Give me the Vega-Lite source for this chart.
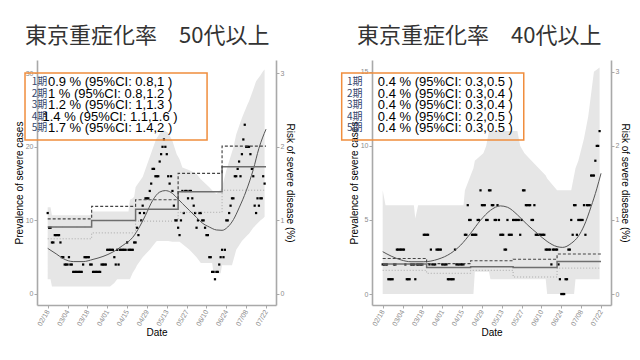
{
"$schema": "https://vega.github.io/schema/vega-lite/v6.json",
"padding": {"left": 14, "top": 25, "right": 5, "bottom": 3},
"spacing": 45,
"background": "white",
"config": {
 "view": {"stroke": null},
 "axis": {"grid": false, "domainColor": "#a9a9a9", "domainWidth": 1.6, "tickColor": "#a9a9a9", "tickSize": 3, "labelColor": "#8c8c8c", "labelFontSize": 7, "labelFont": "Liberation Sans", "titleFont": "Liberation Sans", "titleFontSize": 10, "titleFontWeight": "normal", "titleColor": "#000000", "labelPadding": 1},
 "axisX": {"labelOverlap": false, "labelSeparation": 0, "labelBound": false, "labelFlush": false, "labelAngle": -60, "labelAlign": "right", "labelBaseline": "middle", "labelPadding": 2, "titlePadding": 1, "format": "%m/%d", "tickCount": 30}
},
"datasets": {
 "pts": [
{"d":"2021-02-18","a":11,"b":2},{"d":"2021-02-19","a":9,"b":2},{"d":"2021-02-20","a":9,"b":2},{"d":"2021-02-21","a":7,"b":2},{"d":"2021-02-22","a":7,"b":1},{"d":"2021-02-23","a":8,"b":1},{"d":"2021-02-24","a":8,"b":1},{"d":"2021-02-25","a":8,"b":1},{"d":"2021-02-26","a":8,"b":2},{"d":"2021-02-27","a":7,"b":2},{"d":"2021-02-28","a":5,"b":3},
{"d":"2021-03-01","a":5,"b":3},{"d":"2021-03-02","a":4,"b":3},{"d":"2021-03-03","a":4,"b":3},{"d":"2021-03-04","a":4,"b":3},{"d":"2021-03-05","a":5,"b":3},{"d":"2021-03-06","a":4,"b":2},{"d":"2021-03-07","a":4,"b":1},{"d":"2021-03-08","a":3,"b":1},{"d":"2021-03-09","a":3,"b":1},{"d":"2021-03-10","a":3,"b":2},{"d":"2021-03-11","a":3,"b":2},{"d":"2021-03-12","a":3,"b":2},{"d":"2021-03-13","a":3,"b":1},{"d":"2021-03-14","a":3,"b":2},{"d":"2021-03-15","a":4,"b":2},{"d":"2021-03-16","a":5,"b":2},{"d":"2021-03-17","a":5,"b":2},{"d":"2021-03-18","a":5,"b":2},{"d":"2021-03-19","a":5,"b":4},{"d":"2021-03-20","a":4,"b":4},{"d":"2021-03-21","a":4,"b":4},{"d":"2021-03-22","a":3,"b":4},{"d":"2021-03-23","a":3,"b":2},{"d":"2021-03-24","a":3,"b":3},{"d":"2021-03-25","a":3,"b":2},{"d":"2021-03-26","a":3,"b":2},{"d":"2021-03-27","a":3,"b":2},{"d":"2021-03-28","a":4,"b":3},{"d":"2021-03-29","a":4,"b":3},{"d":"2021-03-30","a":4,"b":3},{"d":"2021-03-31","a":4,"b":3},
{"d":"2021-04-01","a":6,"b":2},{"d":"2021-04-02","a":6,"b":2},{"d":"2021-04-03","a":6,"b":2},{"d":"2021-04-04","a":6,"b":2},{"d":"2021-04-05","a":6,"b":1},{"d":"2021-04-06","a":5,"b":1},{"d":"2021-04-07","a":4,"b":1},{"d":"2021-04-08","a":6,"b":1},{"d":"2021-04-09","a":4,"b":1},{"d":"2021-04-10","a":6,"b":3},{"d":"2021-04-11","a":6,"b":2},{"d":"2021-04-12","a":6,"b":2},{"d":"2021-04-13","a":6,"b":2},{"d":"2021-04-14","a":6,"b":2},{"d":"2021-04-15","a":7,"b":2},{"d":"2021-04-16","a":6,"b":2},{"d":"2021-04-17","a":6,"b":4},{"d":"2021-04-18","a":6,"b":4},{"d":"2021-04-19","a":6,"b":6},{"d":"2021-04-20","a":7,"b":5},{"d":"2021-04-21","a":7,"b":5},{"d":"2021-04-22","a":9,"b":4},{"d":"2021-04-23","a":8,"b":4},{"d":"2021-04-24","a":11,"b":4},{"d":"2021-04-25","a":10,"b":4},{"d":"2021-04-26","a":12,"b":5},{"d":"2021-04-27","a":11,"b":5},{"d":"2021-04-28","a":13,"b":7},{"d":"2021-04-29","a":13,"b":6},{"d":"2021-04-30","a":13,"b":6},
{"d":"2021-05-01","a":14,"b":6},{"d":"2021-05-02","a":15,"b":5},{"d":"2021-05-03","a":17,"b":5},{"d":"2021-05-04","a":17,"b":7},{"d":"2021-05-05","a":16,"b":7},{"d":"2021-05-06","a":16,"b":6},{"d":"2021-05-07","a":16,"b":6},{"d":"2021-05-08","a":18,"b":5},{"d":"2021-05-09","a":19,"b":5},{"d":"2021-05-10","a":20,"b":6},{"d":"2021-05-11","a":21,"b":5},{"d":"2021-05-12","a":20,"b":4},{"d":"2021-05-13","a":19,"b":4},{"d":"2021-05-14","a":16,"b":4},{"d":"2021-05-15","a":15,"b":3},{"d":"2021-05-16","a":16,"b":3},{"d":"2021-05-17","a":14,"b":5},{"d":"2021-05-18","a":12,"b":4},{"d":"2021-05-19","a":10,"b":4},{"d":"2021-05-20","a":10,"b":4},{"d":"2021-05-21","a":9,"b":5},{"d":"2021-05-22","a":8,"b":5},{"d":"2021-05-23","a":10,"b":5},{"d":"2021-05-24","a":14,"b":5},{"d":"2021-05-25","a":11,"b":5},{"d":"2021-05-26","a":14,"b":4},{"d":"2021-05-27","a":14,"b":5},{"d":"2021-05-28","a":13,"b":7},{"d":"2021-05-29","a":14,"b":7},{"d":"2021-05-30","a":14,"b":6},{"d":"2021-05-31","a":13,"b":6},
{"d":"2021-06-01","a":12,"b":6},{"d":"2021-06-02","a":11,"b":6},{"d":"2021-06-03","a":9,"b":5},{"d":"2021-06-04","a":10,"b":5},{"d":"2021-06-05","a":11,"b":6},{"d":"2021-06-06","a":11,"b":4},{"d":"2021-06-07","a":10,"b":4},{"d":"2021-06-08","a":10,"b":4},{"d":"2021-06-09","a":9,"b":4},{"d":"2021-06-10","a":8,"b":4},{"d":"2021-06-11","a":8,"b":4},{"d":"2021-06-12","a":5,"b":4},{"d":"2021-06-13","a":5,"b":3},{"d":"2021-06-14","a":3,"b":3},{"d":"2021-06-15","a":3,"b":3},{"d":"2021-06-16","a":2,"b":3},{"d":"2021-06-17","a":3,"b":2},{"d":"2021-06-18","a":3,"b":3},{"d":"2021-06-19","a":4,"b":3},{"d":"2021-06-20","a":5,"b":3},{"d":"2021-06-21","a":6,"b":3},{"d":"2021-06-22","a":5,"b":2},{"d":"2021-06-23","a":6,"b":1},{"d":"2021-06-24","a":10,"b":0},{"d":"2021-06-25","a":10,"b":0},{"d":"2021-06-26","a":11,"b":0},{"d":"2021-06-27","a":12,"b":1},{"d":"2021-06-28","a":13,"b":1},{"d":"2021-06-29","a":13,"b":3},{"d":"2021-06-30","a":16,"b":3},
{"d":"2021-07-01","a":16,"b":5},{"d":"2021-07-02","a":17,"b":4},{"d":"2021-07-03","a":18,"b":6},{"d":"2021-07-04","a":16,"b":6},{"d":"2021-07-05","a":19,"b":4},{"d":"2021-07-06","a":21,"b":5},{"d":"2021-07-07","a":23,"b":5},{"d":"2021-07-08","a":20,"b":5},{"d":"2021-07-09","a":20,"b":5},{"d":"2021-07-10","a":20,"b":6},{"d":"2021-07-11","a":19,"b":4},{"d":"2021-07-12","a":17,"b":6},{"d":"2021-07-13","a":16,"b":6},{"d":"2021-07-14","a":12,"b":6},{"d":"2021-07-15","a":11,"b":8},{"d":"2021-07-16","a":13,"b":8},{"d":"2021-07-17","a":12,"b":8},{"d":"2021-07-18","a":13,"b":9},{"d":"2021-07-19","a":13,"b":10},{"d":"2021-07-20","a":16,"b":10},{"d":"2021-07-21","a":15,"b":11}
 ],
 "b50": [
{"d":"2021-02-18","lo":2.0,"hi":11.8},{"d":"2021-02-20","lo":2.0,"hi":11.8},{"d":"2021-02-21","lo":1.0,"hi":10.7},{"d":"2021-03-20","lo":1.0,"hi":10.7},{"d":"2021-03-21","lo":1.0,"hi":11.2},{"d":"2021-04-03","lo":1.0,"hi":11.2},{"d":"2021-04-06","lo":1.5,"hi":11.2},{"d":"2021-04-08","lo":2.0,"hi":11.2},{"d":"2021-04-16","lo":2.0,"hi":11.2},{"d":"2021-04-17","lo":2.0,"hi":12.8},{"d":"2021-04-19","lo":2.9,"hi":13.0},{"d":"2021-04-20","lo":3.2,"hi":13.2},{"d":"2021-04-21","lo":3.5,"hi":14.5},{"d":"2021-04-22","lo":3.9,"hi":14.8},{"d":"2021-04-26","lo":5.0,"hi":15.9},{"d":"2021-05-01","lo":6.0,"hi":18.6},{"d":"2021-05-05","lo":7.0,"hi":20.8},{"d":"2021-05-06","lo":7.2,"hi":21.2},{"d":"2021-05-10","lo":7.2,"hi":22.4},{"d":"2021-05-14","lo":7.2,"hi":21.9},{"d":"2021-05-17","lo":7.1,"hi":20.8},{"d":"2021-05-20","lo":7.1,"hi":19.0},{"d":"2021-05-22","lo":7.1,"hi":18.3},{"d":"2021-05-24","lo":6.8,"hi":17.2},{"d":"2021-05-29","lo":6.0,"hi":16.8},{"d":"2021-06-03","lo":5.0,"hi":16.3},{"d":"2021-06-06","lo":4.2,"hi":15.6},{"d":"2021-06-12","lo":4.2,"hi":14.5},{"d":"2021-06-14","lo":4.2,"hi":14.1},{"d":"2021-06-15","lo":2.8,"hi":13.9},{"d":"2021-06-17","lo":2.8,"hi":13.6},{"d":"2021-06-20","lo":2.8,"hi":14.2},{"d":"2021-06-21","lo":3.9,"hi":14.5},{"d":"2021-06-24","lo":3.9,"hi":16.8},{"d":"2021-06-28","lo":3.9,"hi":19.3},{"d":"2021-06-29","lo":4.6,"hi":19.9},{"d":"2021-07-01","lo":6.0,"hi":21.7},{"d":"2021-07-05","lo":7.2,"hi":23.9},{"d":"2021-07-06","lo":7.4,"hi":24.4},{"d":"2021-07-09","lo":8.0,"hi":25.8},{"d":"2021-07-10","lo":8.2,"hi":26.2},{"d":"2021-07-13","lo":9.0,"hi":27.8},{"d":"2021-07-15","lo":9.4,"hi":28.9},{"d":"2021-07-18","lo":10.0,"hi":29.7},{"d":"2021-07-20","lo":10.3,"hi":30.3},{"d":"2021-07-21","lo":10.5,"hi":30.5}
 ],
 "b40": [
{"d":"2021-02-18","lo":0,"hi":7.0},{"d":"2021-02-20","lo":0,"hi":6.0},{"d":"2021-03-12","lo":0,"hi":6.0},{"d":"2021-03-13","lo":0,"hi":5.1},{"d":"2021-03-15","lo":0,"hi":6.0},{"d":"2021-04-16","lo":0,"hi":6.0},{"d":"2021-04-17","lo":0,"hi":7.0},{"d":"2021-04-21","lo":0,"hi":8.0},{"d":"2021-04-23","lo":0,"hi":8.5},{"d":"2021-04-24","lo":1.5,"hi":9.0},{"d":"2021-04-30","lo":1.5,"hi":9.5},{"d":"2021-05-02","lo":1.5,"hi":10.0},{"d":"2021-05-04","lo":1.5,"hi":11.0},{"d":"2021-05-05","lo":1.0,"hi":11.0},{"d":"2021-05-24","lo":1.0,"hi":11.0},{"d":"2021-05-26","lo":1.0,"hi":10.0},{"d":"2021-05-29","lo":1.0,"hi":9.5},{"d":"2021-06-03","lo":1.0,"hi":9.0},{"d":"2021-06-13","lo":1.0,"hi":8.0},{"d":"2021-06-14","lo":0,"hi":7.8},{"d":"2021-06-21","lo":0,"hi":7.0},{"d":"2021-07-01","lo":0,"hi":7.0},{"d":"2021-07-03","lo":0,"hi":8.0},{"d":"2021-07-04","lo":1.0,"hi":8.5},{"d":"2021-07-06","lo":1.0,"hi":9.0},{"d":"2021-07-10","lo":1.0,"hi":10.5},{"d":"2021-07-13","lo":1.0,"hi":12.0},{"d":"2021-07-15","lo":1.0,"hi":13.5},{"d":"2021-07-17","lo":1.0,"hi":15.0},{"d":"2021-07-21","lo":1.0,"hi":15.3}
 ],
 "s50": [
{"d":"2021-02-18","v":6.2},{"d":"2021-02-24","v":5.45},{"d":"2021-03-01","v":4.8},{"d":"2021-03-08","v":4.4},{"d":"2021-03-15","v":4.4},{"d":"2021-03-22","v":4.7},{"d":"2021-03-29","v":5.1},{"d":"2021-04-05","v":5.7},{"d":"2021-04-12","v":6.6},{"d":"2021-04-19","v":7.7},{"d":"2021-04-24","v":9.2},{"d":"2021-04-28","v":10.7},{"d":"2021-05-03","v":12.7},{"d":"2021-05-08","v":13.85},{"d":"2021-05-12","v":14.05},{"d":"2021-05-16","v":13.8},{"d":"2021-05-20","v":13.1},{"d":"2021-05-24","v":12.3},{"d":"2021-05-29","v":11.35},{"d":"2021-06-03","v":10.4},{"d":"2021-06-07","v":9.65},{"d":"2021-06-12","v":9.1},{"d":"2021-06-17","v":8.7},{"d":"2021-06-21","v":8.65},{"d":"2021-06-25","v":9.1},{"d":"2021-06-29","v":10.1},{"d":"2021-07-03","v":11.7},{"d":"2021-07-08","v":14.0},{"d":"2021-07-13","v":16.9},{"d":"2021-07-17","v":19.8},{"d":"2021-07-22","v":22.4}
 ],
 "s40": [
{"d":"2021-02-18","v":2.86},{"d":"2021-02-24","v":2.56},{"d":"2021-03-03","v":2.3},{"d":"2021-03-10","v":2.18},{"d":"2021-03-19","v":2.18},{"d":"2021-03-29","v":2.35},{"d":"2021-04-07","v":2.75},{"d":"2021-04-14","v":3.3},{"d":"2021-04-21","v":4.1},{"d":"2021-04-28","v":4.98},{"d":"2021-05-05","v":5.65},{"d":"2021-05-12","v":5.95},{"d":"2021-05-17","v":5.86},{"d":"2021-05-24","v":5.35},{"d":"2021-05-31","v":4.68},{"d":"2021-06-07","v":4.1},{"d":"2021-06-14","v":3.55},{"d":"2021-06-21","v":3.2},{"d":"2021-06-25","v":3.15},{"d":"2021-07-01","v":3.42},{"d":"2021-07-06","v":3.9},{"d":"2021-07-10","v":4.6},{"d":"2021-07-15","v":5.9},{"d":"2021-07-19","v":7.1},{"d":"2021-07-22","v":8.15}
 ],
 "st50": [
{"d":"2021-02-18","k":"est","r":0.91},{"d":"2021-03-21","k":"est","r":1.0},{"d":"2021-04-21","k":"est","r":1.15},{"d":"2021-05-21","k":"est","r":1.39},{"d":"2021-06-21","k":"est","r":1.73},{"d":"2021-07-22","k":"est","r":1.73},
{"d":"2021-02-18","k":"hi","r":1.02},{"d":"2021-03-21","k":"hi","r":1.19},{"d":"2021-04-21","k":"hi","r":1.28},{"d":"2021-05-21","k":"hi","r":1.64},{"d":"2021-06-21","k":"hi","r":2.01},{"d":"2021-07-22","k":"hi","r":2.01},
{"d":"2021-02-18","k":"lo","r":0.75},{"d":"2021-03-21","k":"lo","r":0.83},{"d":"2021-04-21","k":"lo","r":0.99},{"d":"2021-05-21","k":"lo","r":1.11},{"d":"2021-06-21","k":"lo","r":1.41},{"d":"2021-07-22","k":"lo","r":1.41}
 ],
 "st40": [
{"d":"2021-02-18","k":"est","r":0.405},{"d":"2021-03-21","k":"est","r":0.36},{"d":"2021-04-21","k":"est","r":0.37},{"d":"2021-05-21","k":"est","r":0.36},{"d":"2021-06-21","k":"est","r":0.44},{"d":"2021-07-22","k":"est","r":0.44},
{"d":"2021-02-18","k":"hi","r":0.48},{"d":"2021-03-21","k":"hi","r":0.41},{"d":"2021-04-21","k":"hi","r":0.45},{"d":"2021-05-21","k":"hi","r":0.47},{"d":"2021-06-21","k":"hi","r":0.54},{"d":"2021-07-22","k":"hi","r":0.54},
{"d":"2021-02-18","k":"lo","r":0.32},{"d":"2021-03-21","k":"lo","r":0.28},{"d":"2021-04-21","k":"lo","r":0.32},{"d":"2021-05-21","k":"lo","r":0.23},{"d":"2021-06-21","k":"lo","r":0.35},{"d":"2021-07-22","k":"lo","r":0.35}
 ],
 "t50": [
{"i":1,"p":"1期","t":"0.9 % (95%CI: 0.8,1 )"},{"i":2,"p":"2期","t":"1 % (95%CI: 0.8,1.2 )"},{"i":3,"p":"3期","t":"1.2 % (95%CI: 1,1.3 )"},{"i":4,"p":"4期","t":"1.4 % (95%CI: 1.1,1.6 )"},{"i":5,"p":"5期","t":"1.7 % (95%CI: 1.4,2 )"}
 ],
 "t40": [
{"i":1,"p":"1期","t":"0.4 % (95%CI: 0.3,0.5 )"},{"i":2,"p":"2期","t":"0.4 % (95%CI: 0.3,0.4 )"},{"i":3,"p":"3期","t":"0.4 % (95%CI: 0.3,0.4 )"},{"i":4,"p":"4期","t":"0.4 % (95%CI: 0.2,0.5 )"},{"i":5,"p":"5期","t":"0.4 % (95%CI: 0.3,0.5 )"}
 ]
},
"hconcat": [
 {
  "title": {"text": "東京重症化率　50代以上", "anchor": "start", "frame": "group", "dx": -12, "fontSize": 22, "font": "Noto Sans CJK JP", "fontWeight": "normal", "color": "#333333", "offset": 12},
  "width": 239, "height": 245,
  "layer": [
   {"layer": [
    {"data": {"name": "b50"}, "mark": {"type": "area", "color": "#e6e6e6"},
     "encoding": {
      "x": {"field": "d", "type": "temporal", "title": "Date",
        "scale": {"type": "utc", "domain": [{"year":2021,"month":2,"date":10,"hours":11,"utc":true},{"year":2021,"month":7,"date":29,"hours":1,"utc":true}]},
        "axis": {"values": [{"year":2021,"month":2,"date":18,"utc":true},{"year":2021,"month":3,"date":4,"utc":true},{"year":2021,"month":3,"date":18,"utc":true},{"year":2021,"month":4,"date":1,"utc":true},{"year":2021,"month":4,"date":15,"utc":true},{"year":2021,"month":4,"date":29,"utc":true},{"year":2021,"month":5,"date":13,"utc":true},{"year":2021,"month":5,"date":27,"utc":true},{"year":2021,"month":6,"date":10,"utc":true},{"year":2021,"month":6,"date":24,"utc":true},{"year":2021,"month":7,"date":8,"utc":true},{"year":2021,"month":7,"date":22,"utc":true}], "labelOverlap": false, "tickCount": 30}},
      "y": {"field": "lo", "type": "quantitative", "title": "Prevalence of severe cases", "scale": {"domain": [-1.5, 31.8], "nice": false, "zero": false}, "axis": {"values": [0,10,20,30], "titlePadding": 1}},
      "y2": {"field": "hi"}}},
    {"data": {"name": "pts"}, "mark": {"type": "square", "size": 5, "color": "#000000", "opacity": 1},
     "encoding": {"x": {"field": "d", "type": "temporal", "title": "Date", "axis": {"labelOverlap": false, "tickCount": 30}}, "y": {"field": "a", "type": "quantitative", "title": "Prevalence of severe cases"}}},
    {"data": {"name": "s50"}, "mark": {"type": "line", "interpolate": "monotone", "color": "#555555", "strokeWidth": 1},
     "encoding": {"x": {"field": "d", "type": "temporal", "title": "Date", "axis": {"labelOverlap": false, "tickCount": 30}}, "y": {"field": "v", "type": "quantitative", "title": "Prevalence of severe cases"}}}
   ]},
   {"data": {"name": "st50"}, "mark": {"type": "line", "interpolate": "step-after"},
    "encoding": {
     "x": {"field": "d", "type": "temporal", "title": "Date", "axis": {"labelOverlap": false, "tickCount": 30}},
     "y": {"field": "r", "type": "quantitative", "title": "Risk of severe disease (%)", "scale": {"domain": [-0.15, 3.18], "nice": false, "zero": false}, "axis": {"orient": "right", "values": [0,1,2,3], "titlePadding": 1}},
     "color": {"field": "k", "type": "nominal", "scale": {"domain": ["est","hi","lo"], "range": ["#6e6e6e","#444444","#9a9a9a"]}, "legend": null},
     "strokeDash": {"field": "k", "type": "nominal", "scale": {"domain": ["est","hi","lo"], "range": [[1,0],[3,2],[1,2]]}, "legend": null},
     "strokeWidth": {"field": "k", "type": "ordinal", "scale": {"domain": ["est","hi","lo"], "range": [1.5,0.8,0.9]}, "legend": null}}},
   {"layer": [
    {"data": {"values": [{}]}, "mark": {"type": "rect", "fillOpacity": 0, "stroke": "#f08d3d", "strokeWidth": 1.5},
     "encoding": {
      "x": {"datum": {"year":2021,"month":2,"date":2,"utc":true}, "type": "temporal", "axis": {"labelOverlap": false, "tickCount": 30}},
      "x2": {"datum": {"year":2021,"month":6,"date":10,"hours":10,"utc":true}},
      "y": {"datum": 0.174, "type": "quantitative", "scale": {"domain": [-0.9565, 20.348], "reverse": true, "nice": false, "zero": false}, "axis": null},
      "y2": {"datum": 6.0}}},
    {"data": {"name": "t50"}, "mark": {"type": "text", "font": "Noto Sans CJK JP", "fontSize": 10, "color": "#34466b", "align": "center", "baseline": "middle"},
     "encoding": {"x": {"datum": {"year":2021,"month":2,"date":12,"hours":5,"utc":true}, "type": "temporal", "axis": {"labelOverlap": false, "tickCount": 30}}, "y": {"field": "i", "type": "quantitative"}, "text": {"field": "p"}}},
    {"data": {"name": "t50"}, "mark": {"type": "text", "font": "Liberation Sans", "fontSize": 13, "color": "#000000", "align": "center", "baseline": "middle"},
     "encoding": {"x": {"datum": {"year":2021,"month":4,"date":3,"utc":true}, "type": "temporal", "axis": {"labelOverlap": false, "tickCount": 30}}, "y": {"field": "i", "type": "quantitative"}, "text": {"field": "t"}}}
   ]}
  ],
  "resolve": {"scale": {"y": "independent"}}
 },
 {
  "title": {"text": "東京重症化率　40代以上", "anchor": "start", "frame": "group", "dx": -15, "fontSize": 22, "font": "Noto Sans CJK JP", "fontWeight": "normal", "color": "#333333", "offset": 12},
  "width": 239, "height": 245,
  "layer": [
   {"layer": [
    {"data": {"name": "b40"}, "mark": {"type": "area", "color": "#e6e6e6"},
     "encoding": {
      "x": {"field": "d", "type": "temporal", "title": "Date",
        "scale": {"type": "utc", "domain": [{"year":2021,"month":2,"date":10,"hours":11,"utc":true},{"year":2021,"month":7,"date":29,"hours":1,"utc":true}]},
        "axis": {"values": [{"year":2021,"month":2,"date":18,"utc":true},{"year":2021,"month":3,"date":4,"utc":true},{"year":2021,"month":3,"date":18,"utc":true},{"year":2021,"month":4,"date":1,"utc":true},{"year":2021,"month":4,"date":15,"utc":true},{"year":2021,"month":4,"date":29,"utc":true},{"year":2021,"month":5,"date":13,"utc":true},{"year":2021,"month":5,"date":27,"utc":true},{"year":2021,"month":6,"date":10,"utc":true},{"year":2021,"month":6,"date":24,"utc":true},{"year":2021,"month":7,"date":8,"utc":true},{"year":2021,"month":7,"date":22,"utc":true}], "labelOverlap": false, "tickCount": 30}},
      "y": {"field": "lo", "type": "quantitative", "title": "Prevalence of severe cases", "scale": {"domain": [-0.74, 15.8], "nice": false, "zero": false}, "axis": {"values": [0,5,10,15], "titlePadding": 1}},
      "y2": {"field": "hi"}}},
    {"data": {"name": "pts"}, "mark": {"type": "square", "size": 5, "color": "#000000", "opacity": 1},
     "encoding": {"x": {"field": "d", "type": "temporal", "title": "Date", "axis": {"labelOverlap": false, "tickCount": 30}}, "y": {"field": "b", "type": "quantitative", "title": "Prevalence of severe cases"}}},
    {"data": {"name": "s40"}, "mark": {"type": "line", "interpolate": "monotone", "color": "#555555", "strokeWidth": 1},
     "encoding": {"x": {"field": "d", "type": "temporal", "title": "Date", "axis": {"labelOverlap": false, "tickCount": 30}}, "y": {"field": "v", "type": "quantitative", "title": "Prevalence of severe cases"}}}
   ]},
   {"data": {"name": "st40"}, "mark": {"type": "line", "interpolate": "step-after"},
    "encoding": {
     "x": {"field": "d", "type": "temporal", "title": "Date", "axis": {"labelOverlap": false, "tickCount": 30}},
     "y": {"field": "r", "type": "quantitative", "title": "Risk of severe disease (%)", "scale": {"domain": [-0.148, 3.16], "nice": false, "zero": false}, "axis": {"orient": "right", "values": [0,1,2,3], "titlePadding": 1}},
     "color": {"field": "k", "type": "nominal", "scale": {"domain": ["est","hi","lo"], "range": ["#6e6e6e","#444444","#9a9a9a"]}, "legend": null},
     "strokeDash": {"field": "k", "type": "nominal", "scale": {"domain": ["est","hi","lo"], "range": [[1,0],[3,2],[1,2]]}, "legend": null},
     "strokeWidth": {"field": "k", "type": "ordinal", "scale": {"domain": ["est","hi","lo"], "range": [1.5,0.8,0.9]}, "legend": null}}},
   {"layer": [
    {"data": {"values": [{}]}, "mark": {"type": "rect", "fillOpacity": 0, "stroke": "#f08d3d", "strokeWidth": 1.5},
     "encoding": {
      "x": {"datum": {"year":2021,"month":1,"date":20,"hours":2,"utc":true}, "type": "temporal", "axis": {"labelOverlap": false, "tickCount": 30}},
      "x2": {"datum": {"year":2021,"month":5,"date":28,"hours":12,"utc":true}},
      "y": {"datum": 0.174, "type": "quantitative", "scale": {"domain": [-0.9565, 20.348], "reverse": true, "nice": false, "zero": false}, "axis": null},
      "y2": {"datum": 6.0}}},
    {"data": {"name": "t40"}, "mark": {"type": "text", "font": "Noto Sans CJK JP", "fontSize": 10, "color": "#34466b", "align": "center", "baseline": "middle"},
     "encoding": {"x": {"datum": {"year":2021,"month":1,"date":29,"hours":6,"utc":true}, "type": "temporal", "axis": {"labelOverlap": false, "tickCount": 30}}, "y": {"field": "i", "type": "quantitative"}, "text": {"field": "p"}}},
    {"data": {"name": "t40"}, "mark": {"type": "text", "font": "Liberation Sans", "fontSize": 13, "color": "#000000", "align": "center", "baseline": "middle"},
     "encoding": {"x": {"datum": {"year":2021,"month":4,"date":3,"hours":5,"utc":true}, "type": "temporal", "axis": {"labelOverlap": false, "tickCount": 30}}, "y": {"field": "i", "type": "quantitative"}, "text": {"field": "t"}}}
   ]}
  ],
  "resolve": {"scale": {"y": "independent"}}
 }
]
}
